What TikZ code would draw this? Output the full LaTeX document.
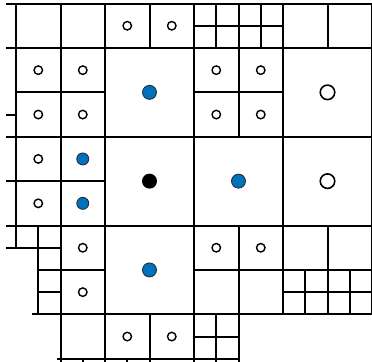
\documentclass[tikz,border=0pt]{standalone}
\usepackage{tikz}
\definecolor{ptblue}{RGB}{0,114,189}

\begin{document}
\begin{tikzpicture}[x=44.5pt, y=-44.4pt, line width=2pt, line cap=rect,
    openpt/.style={circle, draw, line width=1.4pt, fill=white, inner sep=0pt, minimum size=8.5pt},
    bigopenpt/.style={circle, draw, line width=1.6pt, fill=white, inner sep=0pt, minimum size=14.5pt},
    bluept/.style={circle, draw=black!85, fill=ptblue, line width=0.8pt, inner sep=0pt, minimum size=14pt},
    smallbluept/.style={bluept, minimum size=12pt},
    querypt/.style={circle, fill=black, inner sep=0pt, minimum size=15pt}]
    \useasboundingbox (-0.36,-0.08) rectangle (8,8.07);

    % horizontal cell borders
    \draw (-0.2,0) -- (8,0);
    \draw (4,0.5) -- (6,0.5);
    \draw (-0.2,1) -- (8,1);
    \draw (0,2) -- (2,2) (4,2) -- (6,2);
    \draw (-0.2,2.5) -- (0,2.5);
    \draw (-0.2,3) -- (8,3);
    \draw (-0.2,4) -- (2,4);
    \draw (-0.2,5) -- (8,5);
    \draw (-0.2,5.5) -- (1,5.5);
    \draw (0.5,6) -- (2,6) (4,6) -- (8,6);
    \draw (0.5,6.5) -- (1,6.5) (6,6.5) -- (8,6.5);
    \draw (0.38,7) -- (8,7);
    \draw (4,7.5) -- (5,7.5);
    \draw (0.94,8) -- (5,8);

    % vertical cell borders
    \draw (0,0) -- (0,5.5);
    \draw (0.5,5) -- (0.5,7);
    \draw (1,0) -- (1,8.15);
    \draw (1.5,8) -- (1.5,8.15);
    \draw (2,0) -- (2,8.15);
    \draw (2.5,8) -- (2.5,8.15);
    \draw (3,0) -- (3,1) (3,7) -- (3,8.15);
    \draw (4,0) -- (4,8.15);
    \draw (4.5,0) -- (4.5,1) (4.5,7) -- (4.5,8.15);
    \draw (5,0) -- (5,3) (5,5) -- (5,8.15);
    \draw (5.5,0) -- (5.5,1);
    \draw (6,0) -- (6,7);
    \draw (6.5,6) -- (6.5,7);
    \draw (7,0) -- (7,1) (7,5) -- (7,7);
    \draw (7.5,6) -- (7.5,7);
    \draw (8,0) -- (8,7);

    % points
    \node[openpt] (top1) at (2.5,0.5) {};
    \node[openpt] (top2) at (3.5,0.5) {};
    \node[openpt] (left1) at (0.5,1.5) {};
    \node[openpt] (left2) at (1.5,1.5) {};
    \node[openpt] (left3) at (0.5,2.5) {};
    \node[openpt] (left4) at (1.5,2.5) {};
    \node[openpt] (left5) at (0.5,3.5) {};
    \node[openpt] (left6) at (0.5,4.5) {};
    \node[openpt] (mid1) at (4.5,1.5) {};
    \node[openpt] (mid2) at (5.5,1.5) {};
    \node[openpt] (mid3) at (4.5,2.5) {};
    \node[openpt] (mid4) at (5.5,2.5) {};
    \node[openpt] (low1) at (1.5,5.5) {};
    \node[openpt] (low2) at (1.5,6.5) {};
    \node[openpt] (low3) at (4.5,5.5) {};
    \node[openpt] (low4) at (5.5,5.5) {};
    \node[openpt] (bot1) at (2.5,7.5) {};
    \node[openpt] (bot2) at (3.5,7.5) {};
    \node[bigopenpt] (far1) at (7,2) {};
    \node[bigopenpt] (far2) at (7,4) {};

    \node[bluept] (near1) at (3,2) {};
    \node[bluept] (near2) at (5,4) {};
    \node[bluept] (near3) at (3,6) {};
    \node[smallbluept] (near4) at (1.5,3.5) {};
    \node[smallbluept] (near5) at (1.5,4.5) {};

    \node[querypt] (query) at (3,4) {};
\end{tikzpicture}
\end{document}
